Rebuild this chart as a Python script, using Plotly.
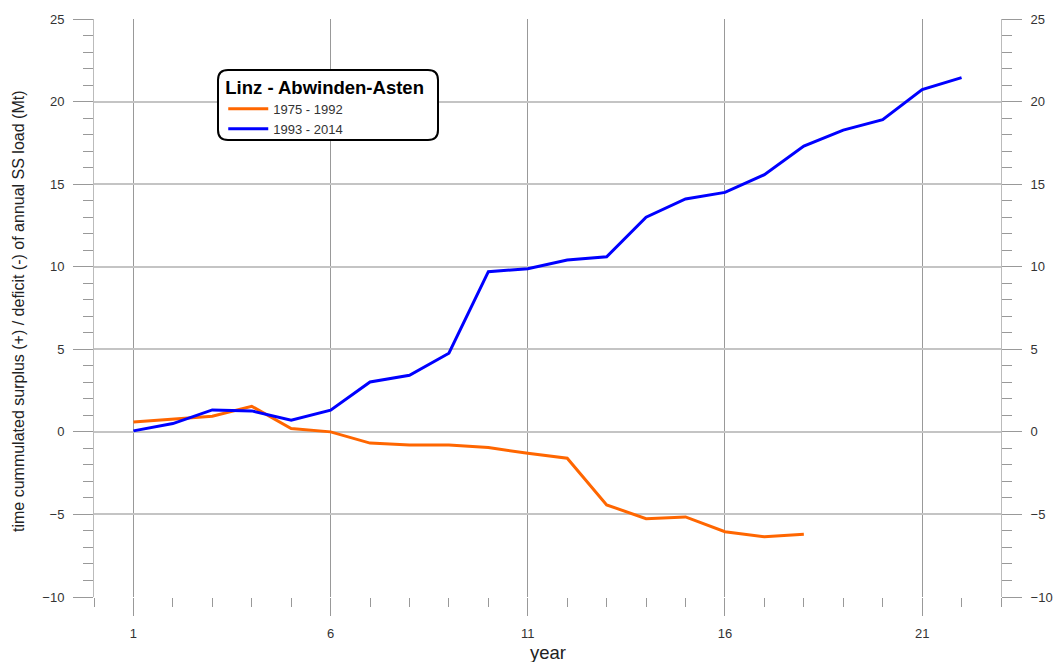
import plotly.graph_objects as go

years_a = list(range(1, 19))
vals_a = [0.6, 0.77, 0.95, 1.55, 0.2, 0.0, -0.68, -0.8, -0.8, -0.95, -1.3, -1.6,
          -4.42, -5.26, -5.15, -6.05, -6.35, -6.2]
years_b = list(range(1, 23))
vals_b = [0.06, 0.5, 1.33, 1.27, 0.7, 1.31, 3.02, 3.43, 4.76, 9.7, 9.88, 10.4,
          10.6, 13.0, 14.1, 14.5, 15.57, 17.3, 18.27, 18.9, 20.73, 21.45]
name_a = "1975 - 1992"
name_b = "1993 - 2014"
legend_title = "Linz - Abwinden-Asten"
x_title = "year"
y_title = "time cummulated surplus (+) / deficit (-) of annual SS load (Mt)"

FONT = "Arial, Liberation Sans, sans-serif"
PW, PH = 907, 578  # plot area size in px

fig = go.Figure()
fig.add_trace(go.Scatter(x=years_a, y=vals_a, mode="lines", name=name_a,
                         line=dict(color="#ff6600", width=3)))
fig.add_trace(go.Scatter(x=years_b, y=vals_b, mode="lines", name=name_b,
                         line=dict(color="#0000ff", width=3)))
# invisible trace to display the right axis
fig.add_trace(go.Scatter(x=[None], y=[None], yaxis="y2", showlegend=False, hoverinfo="skip"))

tickfont = dict(family=FONT, size=13, color="#333333")
yaxis_common = dict(range=[-10, 25], tick0=-10, dtick=5, ticks="outside", ticklen=20,
                    tickcolor="#999999", tickwidth=1, tickfont=tickfont,
                    ticklabelstandoff=6,
                    minor=dict(dtick=1, ticklen=10, ticks="outside", tickcolor="#999999",
                               showgrid=False),
                    zeroline=False, showline=True, linecolor="#bbbbbb", linewidth=1,
                    automargin=False)

fig.update_layout(
    width=1055, height=662,
    margin=dict(l=94, r=54, t=19, b=65, autoexpand=False),
    paper_bgcolor="white", plot_bgcolor="white",
    font=dict(family=FONT, color="#222222"),
    xaxis=dict(range=[0, 23], tick0=1, dtick=5, ticks="outside", ticklen=18,
               tickcolor="#999999", tickfont=tickfont, showgrid=True,
               gridcolor="#999999", gridwidth=1, ticklabelstandoff=6,
               minor=dict(dtick=1, tick0=0, ticklen=9, ticks="outside",
                          tickcolor="#999999", showgrid=False),
               zeroline=False, showline=False, automargin=False),
    yaxis=dict(**yaxis_common, showgrid=True, gridcolor="#c4c4c4", gridwidth=1.5),
    yaxis2=dict(**yaxis_common, overlaying="y", side="right", showgrid=False),
    legend=dict(x=0.1425, y=0.912, xanchor="left", yanchor="top",
                bgcolor="rgba(0,0,0,0)", borderwidth=0,
                title=dict(text="<b>" + legend_title + "</b>",
                           font=dict(family=FONT, size=18.5, color="#000000")),
                font=dict(family=FONT, size=13, color="#333333"),
                tracegroupgap=0, itemwidth=40),
    showlegend=True,
    annotations=[
        dict(text=x_title, xref="paper", yref="paper", x=0.5, y=-(652 - 597) / PH,
             xanchor="center", yanchor="middle", showarrow=False,
             font=dict(family=FONT, size=18.5, color="#222222")),
        dict(text=y_title, xref="paper", yref="paper", x=-(94 - 18) / PW, y=1 - (311 - 19) / PH,
             xanchor="center", yanchor="middle", showarrow=False, textangle=-90,
             font=dict(family=FONT, size=16, color="#222222")),
    ],
)

# rounded legend box
x0, x1 = (218 - 94) / PW, (438 - 94) / PW
y1, y0 = 1 - (70 - 19) / PH, 1 - (140 - 19) / PH
rx, ry = 10 / PW, 10 / PH
path = (f"M {x0+rx},{y1} L {x1-rx},{y1} Q {x1},{y1} {x1},{y1-ry} "
        f"L {x1},{y0+ry} Q {x1},{y0} {x1-rx},{y0} L {x0+rx},{y0} "
        f"Q {x0},{y0} {x0},{y0+ry} L {x0},{y1-ry} Q {x0},{y1} {x0+rx},{y1} Z")
fig.add_shape(type="path", path=path, xref="paper", yref="paper",
              line=dict(color="black", width=2), fillcolor="white", layer="above")

fig.write_html("out.html", config={"displayModeBar": False},
               post_script="document.body.style.margin='0';document.body.style.overflow='hidden';")
